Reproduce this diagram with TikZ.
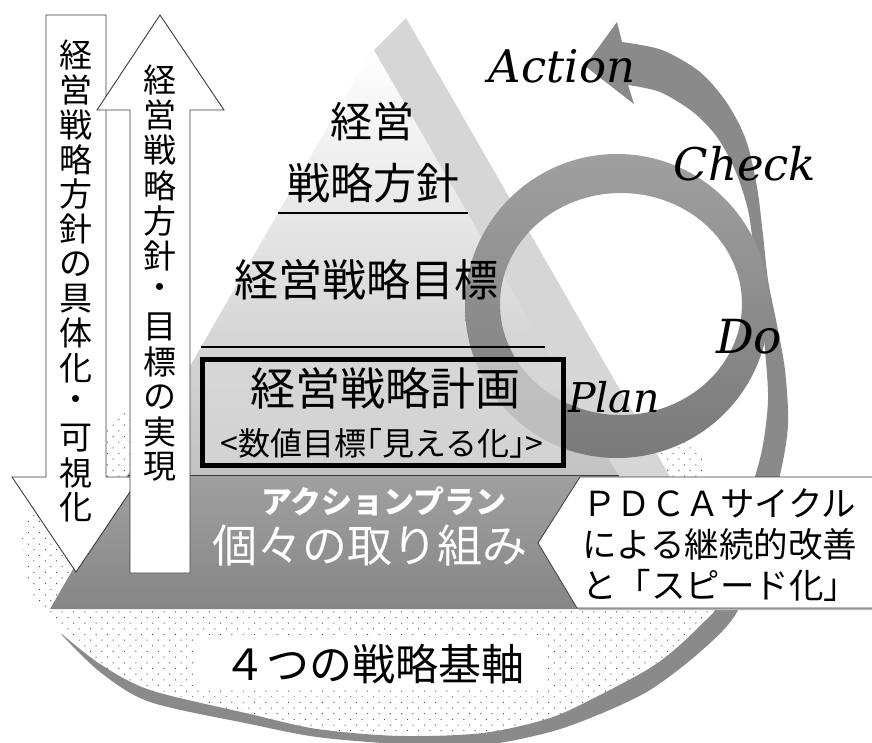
\documentclass[tikz,border=0pt]{standalone}
\usepackage{fontspec}
\newfontfamily\jp{Noto Sans CJK JP}
\newfontfamily\lat{DejaVu Serif}
\usetikzlibrary{patterns.meta}
\newcommand\fsz[1]{\fontsize{#1}{#1}\selectfont}
\definecolor{bandc}{RGB}{214,214,214}
\definecolor{ringtop}{RGB}{160,160,160}
\definecolor{ringbot}{RGB}{122,122,122}
\definecolor{spir}{RGB}{138,138,138}
\definecolor{darkA}{RGB}{160,160,160}
\definecolor{darkB}{RGB}{134,134,134}
\definecolor{pyrB}{RGB}{194,194,194}
\definecolor{edgec}{RGB}{60,60,60}
\begin{document}
\begin{tikzpicture}[x=1pt,y=-1pt,
  jt/.style={inner sep=0pt, anchor=center},
  vtxt/.style={inner sep=0pt, anchor=center, font=\jp\fsz{33}},
  pdcal/.style={inner sep=0pt, anchor=base},
  arrowbox/.style={fill=white, draw=edgec, line width=0.9pt, line join=miter}]
\fill[white] (0,0) rectangle (872,742);
\useasboundingbox (0,0) rectangle (872,742);
% dotted base
\path[fill=white] plot[smooth] coordinates {(714,612) (680,645) (650,668) (600,695) (550,718) (483,733) (400,736) (317,729) (250,714) (150,690) (100,664) (63,635) (30,590) (22,540)}
  -- (30,505) -- (70,452) -- (115,415) -- (250,370) -- (450,360) -- (620,395) -- (704,455) -- cycle;
\path[pattern={Dots[radius=0.7pt,distance=8pt,angle=45]}, pattern color=black!70] plot[smooth] coordinates {(714,612) (680,645) (650,668) (600,695) (550,718) (483,733) (400,736) (317,729) (250,714) (150,690) (100,664) (63,635) (30,590) (22,540)}
  -- (30,505) -- (70,452) -- (115,415) -- (250,370) -- (450,360) -- (620,395) -- (704,455) -- cycle;
\fill[white] (193,635) rectangle (547,690);
% spiral band with arrow head
\fill[spir] plot[smooth] coordinates {(61,634) (100,672) (150,702) (250,724) (317,737) (400,744) (483,745) (550,732) (600,714) (650,690) (700,652) (737,612) (762,540) (780,475) (788,425) (785,370) (776,320) (768,280) (763,235) (757,187) (746,140) (727,103) (700,72) (662,50) (622,42)}
  -- (617,22) -- (585,66) -- (634,104) -- (628,85)
  -- plot[smooth] coordinates {(628,85) (660,92) (693,112) (717,137) (735,170) (748,210) (755,260) (760,300) (765,350) (768,400) (762,450) (748,500) (730,560) (714,612)}
  -- plot[smooth] coordinates {(714,612) (680,645) (650,668) (600,695) (550,718) (483,733) (400,736) (317,729) (250,714) (150,690) (100,664) (63,635)} -- cycle;
% pyramid
\shade[top color=white, bottom color=pyrB] (373,48) -- (619,475) -- (127.5,475) -- cycle;
\shade[top color=darkA, bottom color=darkB] (127.5,475) -- (619,475) -- (696,609) -- (50,609) -- cycle;
% side band
\fill[bandc] (374,50) -- (406,18) -- (741,600) -- (690,600) -- cycle;
% ring
\shade[top color=ringtop, bottom color=ringbot, even odd rule] (617,306) circle[radius=152pt] (621,304) ellipse[x radius=121pt, y radius=111pt];
% level lines
\draw[line width=1.1pt] (278,213) -- (468,213);
\draw[line width=1.1pt] (201,347) -- (545,347);
\draw[line width=0.8pt, edgec] (127.5,475) -- (619,475);
% plan box
\draw[line width=5pt, fill=gray!30, fill opacity=0.7] (202.5,359.5) rectangle (563,465.5);
% arrows
\draw[arrowbox] (46,15) -- (106,15) -- (106,477) -- (140,477) -- (76,572) -- (12,477) -- (46,477) -- cycle;
\draw[arrowbox] (130,573) -- (130,110) -- (97,110) -- (160,15) -- (224,110) -- (190,110) -- (190,573) -- cycle;
% PDCA box
\fill[gray!55] (582,479) -- (875,479) -- (875,610) -- (579,610) -- (540,545) -- cycle;
\filldraw[fill=white, draw=edgec, line width=0.8pt] (580,477) -- (873,477) -- (873,608) -- (577,608) -- (538,543) -- cycle;
% vertical texts
\foreach \c [count=\i from 0] in {経,営,戦,略,方,針,の,具,体,化,・,可,視,化}
  \node[vtxt] (dl\i) at (76,55+34.8*\i) {\c};
\foreach \c [count=\i from 0] in {経,営,戦,略,方,針,・,目,標,の,実,現}
  \node[vtxt] (ul\i) at (160,80+35.2*\i) {\c};
% pyramid texts
\node[jt, font=\jp\fsz{42}] (t1) at (372,122) {経営};
\node[jt, font=\jp\fsz{43}] (t2) at (373,183) {戦略方針};
\node[jt, font=\jp\fsz{44}] (t3) at (366,280) {経営戦略目標};
\node[jt, font=\jp\fsz{45}] (t4) at (385,388) {経営戦略計画};
\node[jt, font=\jp\fsz{32}] (t5) at (382,443) {<数値目標｢見える化｣>};
\node[jt, font=\jp\bfseries\fsz{31}, text=white] (t6) at (384,501) {アクションプラン};
\node[jt, font=\jp\fsz{45}, text=white] (t7) at (370,545) {個々の取り組み};
\node[jt, font=\jp\fsz{43}] (t8) at (374,664) {４つの戦略基軸};
% PDCA box text
\node[inner sep=0pt, anchor=west, font=\jp\fsz{34.5}] (p1) at (582,503) {ＰＤＣＡサイクル};
\node[inner sep=0pt, anchor=west, font=\jp\fsz{34.5}] (p2) at (582,544) {による継続的改善};
\node[inner sep=0pt, anchor=west, font=\jp\fsz{34.5}] (p3) at (582,585) {と「スピード化」};
% PDCA labels
\node[pdcal, font=\lat\itshape\fsz{45}] (la) at (562,82) {Action};
\node[pdcal, font=\lat\itshape\fsz{45}] (lc) at (745,180) {Check};
\node[pdcal, font=\lat\itshape\fsz{47}] (ld) at (749,353) {Do};
\node[pdcal, font=\lat\itshape\fsz{41}] (lp) at (614,412) {Plan};
\end{tikzpicture}
\end{document}
